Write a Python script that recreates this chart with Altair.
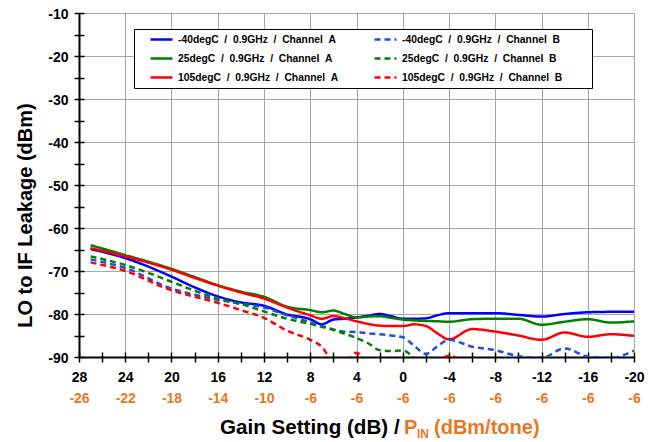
import altair as alt
import pandas as pd

FONT = "Liberation Sans, Arial, sans-serif"
ORANGE = "#E8771F"

gains = [27, 24, 20, 18, 16, 14, 12, 10, 8, 7, 6, 5, 4, 3, 2, 1, 0,
         -1, -2, -3, -4, -6, -8, -10, -12, -14, -16, -18, -20]

blue_a = [-64.9, -67.0, -71.3, -73.8, -75.9, -77.3, -78.1, -80.1, -81.2, -82.4, -81.3, -81.1, -80.8, -80.4, -80.0, -80.5, -81.1,
          -81.1, -81.0, -80.3, -79.8, -79.8, -79.8, -80.2, -80.6, -80.0, -79.6, -79.5, -79.5]
green_a = [-64.0, -66.3, -69.5, -71.4, -73.3, -74.8, -76.0, -78.3, -79.1, -79.6, -79.2, -80.0, -80.8, -80.6, -80.5, -80.9, -81.3,
           -81.5, -81.6, -81.7, -81.8, -81.2, -81.1, -81.1, -82.5, -81.8, -81.2, -82.0, -81.7]
red_a = [-64.7, -66.6, -69.7, -71.6, -73.4, -75.0, -76.4, -78.5, -80.3, -81.1, -80.5, -81.0, -81.7, -82.3, -82.7, -82.8, -82.8,
         -82.4, -82.8, -84.5, -85.9, -83.5, -84.1, -85.0, -86.0, -84.3, -85.3, -84.7, -85.1]
blue_b = [-67.3, -69.3, -74.1, -75.5, -76.7, -77.6, -78.5, -80.3, -81.9, -82.8, -83.6, -84.1, -84.2, -84.5, -84.7, -85.0, -85.4,
          -87.4, -89.3, -87.5, -86.0, -87.6, -88.4, -89.8, -90.2, -88.0, -89.9, -90.2, -88.5]
green_b = [-66.6, -68.6, -72.5, -74.6, -76.4, -77.7, -79.4, -81.1, -82.3, -83.0, -83.7, -84.6, -85.6, -86.8, -88.4, -88.6, -88.5,
           -90.3, -93.0, None, None, None, None, None, None, None, None, None, None]
red_b = [-68.0, -70.0, -74.5, -76.0, -77.4, -79.1, -80.9, -83.9, -86.0, -87.6, -91.0, -91.0, -89.0, -91.5, -93.0, -94.0, -94.0,
         -93.0, -92.0, -91.0, -89.7, -93.0, None, None, None, None, None, None, None]

NB = "\u00a0"
PAD = "\u2800" * 4
def lab(t, ch, trail=""):
    return f"{t}{NB}{NB}/{NB}{NB}0.9GHz{NB}{NB}/{NB}{NB}Channel{NB}{NB}{ch}{trail}"

# column-major legend: first column = Channel A, second = Channel B
series_names = [lab("-40degC", "A"), lab("25degC", "A"), lab("105degC", "A"),
                lab("-40degC", "B", PAD), lab("25degC", "B", PAD), lab("105degC", "B", PAD)]
series_values = [blue_a, green_a, red_a, blue_b, green_b, red_b]
series_colors = ["#0000FF", "#008000", "#FF0000", "#1F4FE0", "#008000", "#FF0000"]
series_dashes = [[1, 0], [1, 0], [1, 0], [6, 4], [6, 4], [6, 4]]

x_ticks = list(range(28, -21, -2))
label_gains = [28, 24, 20, 16, 12, 8, 4, 0, -4, -8, -12, -16, -20]
pin_labels = ["-26", "-22", "-18", "-14", "-10", "-6", "-6", "-6", "-6", "-6", "-6", "-6", "-6"]
y_ticks = list(range(-90, -9, 5))

rows = []
for name, vals in zip(series_names, series_values):
    for g, v in zip(gains, vals):
        if v is not None:
            rows.append({"series": name, "gain": g, "value": v})
df = pd.DataFrame(rows)

xscale = alt.Scale(domain=[-20, 28], reverse=True, nice=False, zero=False)
yscale = alt.Scale(domain=[-90, -10], nice=False, zero=False)

legend = alt.Legend(
    orient="none", legendX=55, legendY=16, columns=2, title=None,
    padding=1, strokeColor="black", fillColor="white",
    symbolType="stroke", symbolSize=484, symbolStrokeWidth=2.5,
    symbolOffset=14, labelOffset=4, clipHeight=19,
    columnPadding=20, rowPadding=0, labelFont=FONT, labelFontSize=10.3,
    labelFontWeight="bold", labelColor="black", labelLimit=400,
)

lines = alt.Chart(df).mark_line(clip=True, strokeWidth=2.5, interpolate="monotone").encode(
    x=alt.X("gain:Q", scale=xscale, axis=alt.Axis(
        values=x_ticks, title=None, orient="bottom",
        labelExpr="datum.value % 4 == 0 ? '' + datum.value : ''",
        gridOpacity={"condition": {"test": "datum.value % 4 == 0", "value": 1}, "value": 0},
        tickSize=5, labelPadding=8, labelFlush=False,
    )),
    y=alt.Y("value:Q", scale=yscale, axis=alt.Axis(
        values=y_ticks, title="LO to IF Leakage (dBm)", orient="left",
        labelExpr="datum.value % 10 == 0 ? '' + datum.value : ''",
        gridOpacity={"condition": {"test": "datum.value % 10 == 0", "value": 1}, "value": 0},
        tickSize=5, labelPadding=6, titlePadding=12, titleY=202, labelOffset=1.5,
        titleFontSize=20, titleFontWeight="bold", titleFont=FONT, titleColor="black",
        labelFlush=False,
    )),
    color=alt.Color("series:N", scale=alt.Scale(domain=series_names, range=series_colors), legend=legend),
    strokeDash=alt.StrokeDash("series:N", scale=alt.Scale(domain=series_names, range=series_dashes), legend=legend),
)

pin_expr = " : ".join(f"datum.value == {g} ? '{p}'" for g, p in zip(label_gains, pin_labels)) + " : ''"
tick_df = pd.DataFrame({"gain": label_gains, "value": [-50] * len(label_gains)})

orange_axis = alt.Chart(tick_df).mark_point(opacity=0).encode(
    x=alt.X("gain:Q", scale=xscale, axis=alt.Axis(
        values=label_gains, labelExpr=pin_expr, labelColor=ORANGE, title=None, orient="bottom",
        offset=21, domain=False, ticks=False, tickSize=0, grid=False, labelPadding=13,
        labelFlush=False,
    ))
)

# inner halves of the crossing tick marks
inner_ticks = alt.Chart(tick_df).mark_point(opacity=0).encode(
    x=alt.X("gain:Q", scale=xscale, axis=alt.Axis(
        values=x_ticks, labels=False, title=None, orient="bottom", offset=-5,
        domain=False, grid=False, tickSize=5,
    )),
    y=alt.Y("value:Q", scale=yscale, axis=alt.Axis(
        values=y_ticks, labels=False, title=None, orient="left", offset=-5,
        domain=False, grid=False, tickSize=5,
    )),
)

title_parts = [
    ("Gain Setting (dB)  /", "black", 20.6, 141, 421),
    ("P", ORANGE, 20, 325, 421),
    ("IN", ORANGE, 12, 338, 425),
    ("(dBm/tone)", ORANGE, 20, 355, 421),
]
title_layers = []
for txt, col, fs, px, py in title_parts:
    title_layers.append(
        alt.Chart(pd.DataFrame({"t": [txt]})).mark_text(
            align="left", baseline="alphabetic", fontSize=fs, fontWeight="bold", font=FONT, color=col
        ).encode(x=alt.value(px), y=alt.value(py), text="t:N")
    )

chart = alt.layer(lines, orange_axis, inner_ticks, *title_layers).resolve_axis(
    x="independent", y="independent"
).properties(
    width=555, height=344,
    autosize=alt.AutoSizeParams(type="none"),
    padding={"left": 71, "top": 5, "right": 15, "bottom": 85},
).configure_view(stroke=None).configure_axis(
    domainColor="black", domainWidth=2, tickColor="black", tickWidth=1.5,
    labelFont=FONT, labelFontSize=14, labelFontWeight="bold", labelColor="black",
    gridColor="#A6A6A6", gridWidth=1,
)

chart.save("out.html", embed_options={"renderer": "svg", "actions": False})
